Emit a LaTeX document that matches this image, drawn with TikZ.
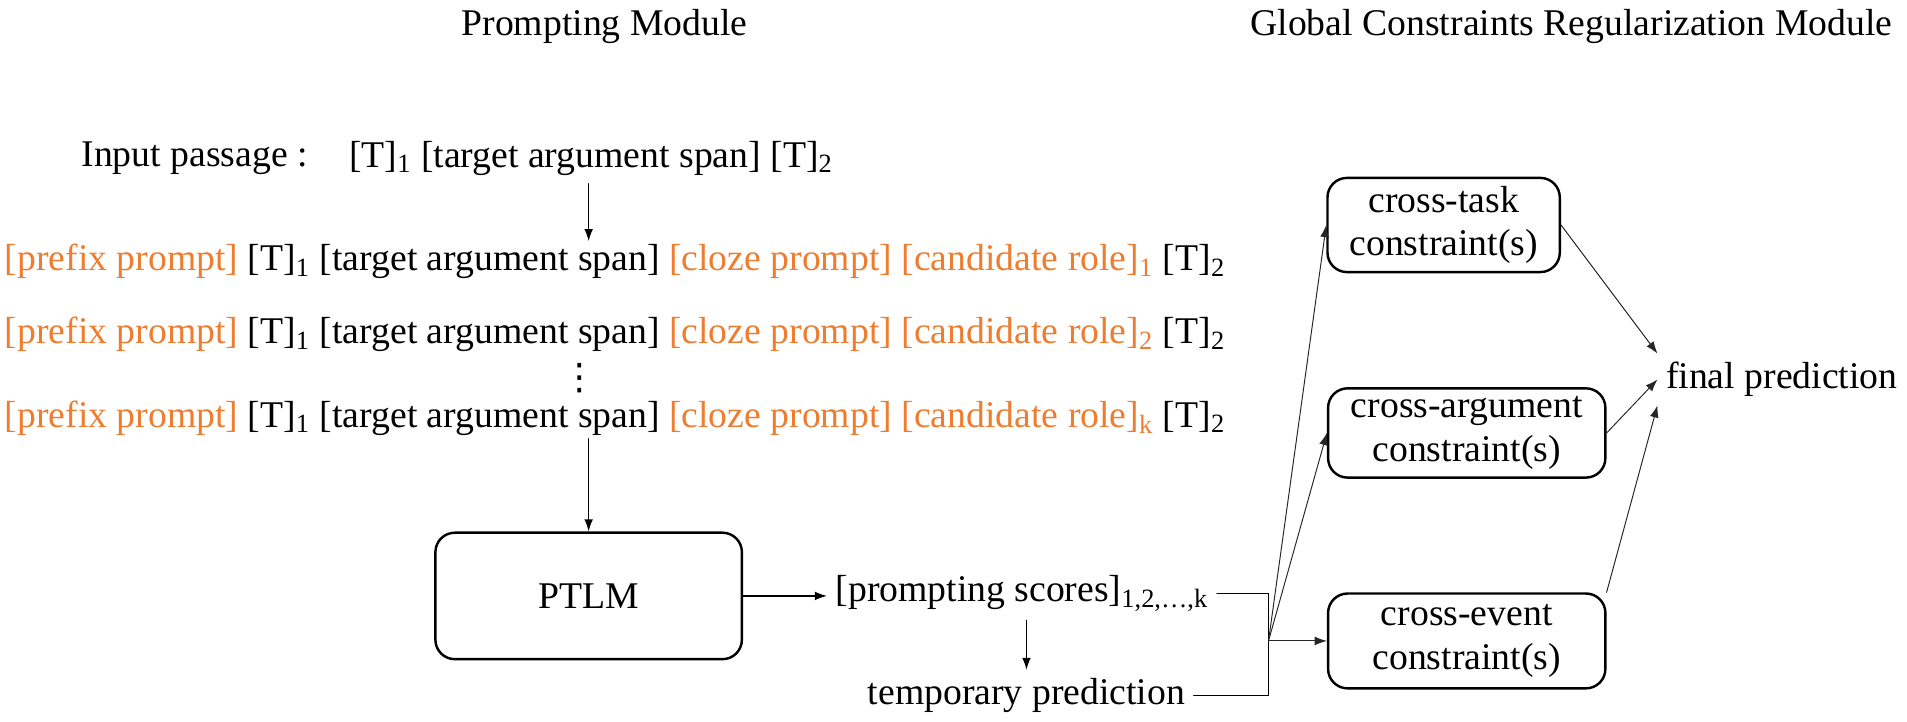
\documentclass[tikz,border=0pt]{standalone}
\usepackage{fontspec}
\setmainfont{Liberation Serif}
\newfontfamily\dotsfont{DejaVu Sans}
\usepackage{tikz}
\usetikzlibrary{arrows.meta}

\begin{document}
\begin{tikzpicture}
			[x=0.5pt,y=-0.5pt,line cap=round,
			%Styles
			every node/.style={font=\fontsize{15.5}{18}\selectfont},
			prompt row/.style={anchor=west,inner ysep=1pt},
			module box/.style={draw,rounded corners=8pt,line width=1pt,align=center},
			flow arrow/.style={-{Latex[length=5pt,width=3.6pt]},line width=0.6pt},
			thin arrow/.style={-{Latex[length=5pt,width=3.6pt]},line width=0.4pt,black!85}
			]
			
			%Colors
			\definecolor{promptcolor}{RGB}{237,125,49}	%prompt parts of the rows
			
			%The graphic
			\useasboundingbox (0,0) rectangle (1568,593);
			
			\node (headleft) at (497,22) {Prompting Module};
			\node (headright) at (1292,22) {Global Constraints Regularization Module};
			
			\node[anchor=west] (inlabel) at (60,130) {Input passage :};
			\node[anchor=west] (input) at (280,130) {[T]\textsubscript{1} [target argument span] [T]\textsubscript{2}};
			
			\node[prompt row] (row1) at (-3,215) {\textcolor{promptcolor}{[prefix prompt]} [T]\textsubscript{1} [target argument span] \textcolor{promptcolor}{[cloze prompt] [candidate role]\textsubscript{1}} [T]\textsubscript{2}};
			\node[prompt row] (row2) at (-3,275) {\textcolor{promptcolor}{[prefix prompt]} [T]\textsubscript{1} [target argument span] \textcolor{promptcolor}{[cloze prompt] [candidate role]\textsubscript{2}} [T]\textsubscript{2}};
			\node[inner sep=0pt,font=\dotsfont\fontsize{15}{15}\selectfont] (dots) at (477,311) {⋮};
			\node[prompt row] (rowk) at (-3,344) {\textcolor{promptcolor}{[prefix prompt]} [T]\textsubscript{1} [target argument span] \textcolor{promptcolor}{[cloze prompt] [candidate role]\textsubscript{k}} [T]\textsubscript{2}};
			
			\node[module box,minimum width=126pt,minimum height=52pt] (ptlm) at (484,490) {PTLM};
			\node[anchor=west] (scores) at (680,488) {[prompting scores]\textsubscript{1,2,\ldots,k}};
			\node (temp) at (844,572) {temporary prediction};
			\coordinate (branch) at (1043,527);
			
			\node[module box,minimum width=95.5pt,minimum height=37pt] (task) at (1187,185) {cross-task\\constraint(s)};
			\node[module box,minimum width=114pt,minimum height=34pt] (arg) at (1206,356) {cross-argument\\constraint(s)};
			\node[module box,minimum width=114pt,minimum height=39pt] (event) at (1206,527) {cross-event\\constraint(s)};
			\node (final) at (1465,312) {final prediction};
			
			\draw[flow arrow] (ptlm |- input.south) -- (ptlm |- row1.north);
			\draw[flow arrow] (ptlm |- rowk.south) -- (ptlm.north);
			\draw[flow arrow] (ptlm.east) -- (ptlm.east -| scores.west);
			\draw[flow arrow] (temp |- scores.south) -- (temp.north);
			\draw[line width=0.6pt] (scores.east) -| (branch) |- (temp.east);
			
			\draw[thin arrow] (branch) -- (task.west);
			\draw[thin arrow] (branch) -- (arg.west);
			\draw[thin arrow] (branch) -- (event.west);
			
			\draw[thin arrow] (task.east) -- (final.north west);
			\draw[thin arrow] (arg.east) -- (final.west);
			\draw[thin arrow] (event.north east) -- (final.south west);
		\end{tikzpicture}
\end{document}
